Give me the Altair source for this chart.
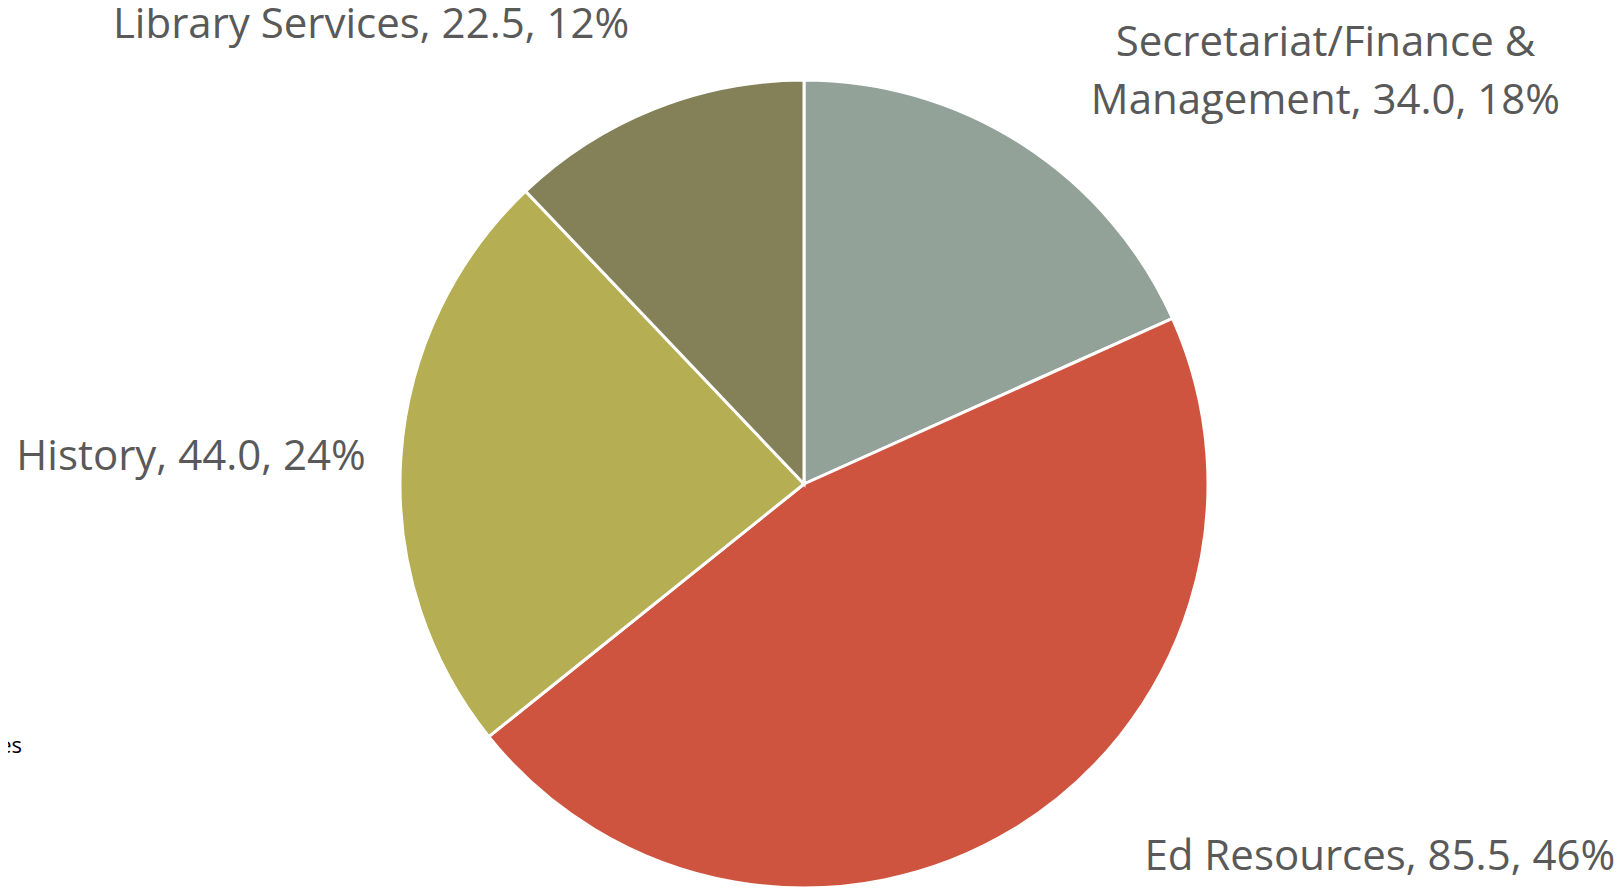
import altair as alt
import pandas as pd

categories = ["Secretariat/Finance & Management", "Ed Resources", "History", "Library Services"]
values = [34.0, 85.5, 44.0, 22.5]
colors = ["#93A299", "#CF543F", "#B5AE53", "#848058"]

labels = [
    "Secretariat/Finance &\nManagement, 34.0, 18%",
    "Ed Resources, 85.5, 46%",
    "History, 44.0, 24%",
    "Library Services, 22.5, 12%",
]

df = pd.DataFrame({
    "category": categories,
    "value": values,
    "order": list(range(len(categories))),
    "label": labels,
})

CX, CY = 796, 476
R = 404
FONT = "Open Sans"

base = alt.Chart(df).encode(
    theta=alt.Theta("value:Q", stack=True),
    order=alt.Order("order:Q"),
)

pie = base.mark_arc(outerRadius=R, stroke="white", strokeWidth=3).encode(
    x=alt.value(CX),
    y=alt.value(CY),
    color=alt.Color("category:N", scale=alt.Scale(domain=categories, range=colors), legend=None),
)

offsets = {
    "Secretariat/Finance & Management": (277, -63),
    "Ed Resources": (341, -11),
    "History": (-164, 3),
    "Library Services": (-266, -41),
}

text_layers = []
for cat, (dx, dy) in offsets.items():
    t = base.transform_calculate(
        shown=f"datum.category == '{cat}' ? datum.label : ''"
    ).mark_text(
        radius=450, dx=dx, dy=dy, fontSize=42, font=FONT, color="#595959",
        lineBreak="\n", lineHeight=58, align="center", baseline="middle",
    ).encode(
        x=alt.value(CX),
        y=alt.value(CY),
        text="shown:N",
    )
    text_layers.append(t)

legend_stub = alt.Chart(pd.DataFrame({"t": ["es"]})).mark_text(
    fontSize=22, font=FONT, color="#000000", align="right", baseline="middle"
).encode(x=alt.value(14), y=alt.value(738), text="t:N")

chart = alt.layer(pie, *text_layers, legend_stub).properties(
    width=1608, height=882, padding=0,
    autosize=alt.AutoSizeParams(type="none"),
).configure_view(stroke=None)

chart.save("out.html", embed_options={"renderer": "svg", "actions": False})
